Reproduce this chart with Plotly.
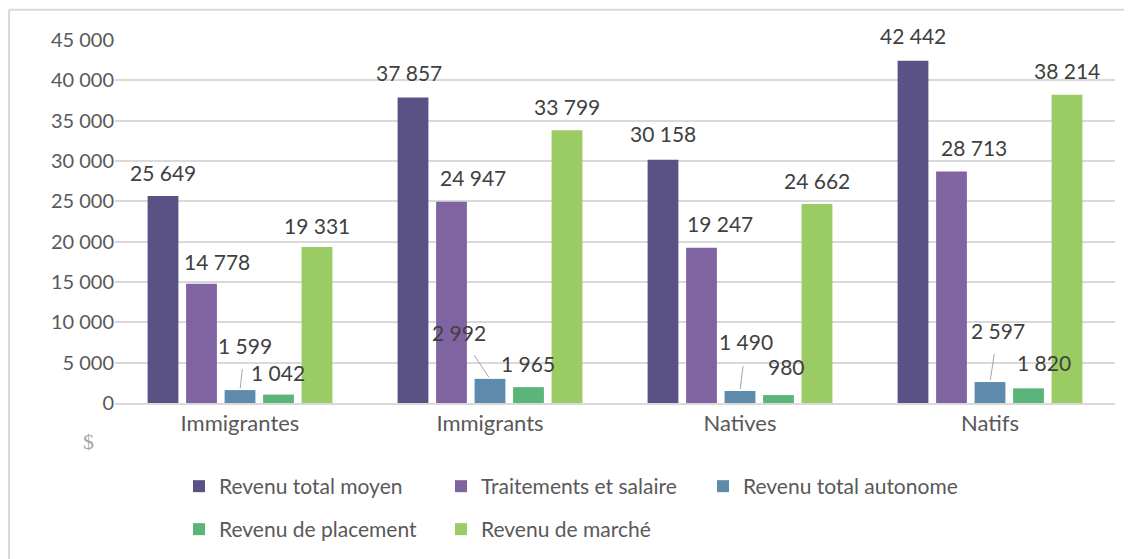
import plotly.graph_objects as go

categories = ["Immigrantes", "Immigrants", "Natives", "Natifs"]
series_names = ["Revenu total moyen", "Traitements et salaire", "Revenu total autonome",
                "Revenu de placement", "Revenu de marché"]
revenu_total_moyen = [25649, 37857, 30158, 42442]
traitements_salaire = [14778, 24947, 19247, 28713]
revenu_autonome = [1599, 2992, 1490, 2597]
revenu_placement = [1042, 1965, 980, 1820]
revenu_marche = [19331, 33799, 24662, 38214]
tick_vals = [0, 5000, 10000, 15000, 20000, 25000, 30000, 35000, 40000, 45000]
tick_text = ["0", "5 000", "10 000", "15 000", "20 000", "25 000", "30 000", "35 000", "40 000", "45 000"]

colors = ["#5A5285", "#8064A2", "#5E8BAB", "#5BB47A", "#9BCB63"]
all_series = [revenu_total_moyen, traitements_salaire, revenu_autonome, revenu_placement, revenu_marche]

FONT = "Lato"
LABEL_FONT = dict(family=FONT, size=21, color="#404040")

def fmt(v):
    return f"{v:,}".replace(",", " ")

BARGAP = 0.23
fig = go.Figure()
for i, (name, vals) in enumerate(zip(series_names, all_series)):
    fig.add_trace(go.Bar(
        name=name, x=categories, y=vals,
        marker=dict(color=colors[i], line=dict(width=0)),
        legend="legend" if i < 3 else "legend2",
    ))

plot_w = 1000
slot = plot_w / len(categories) * (1 - BARGAP) / 5

# label offsets (pixels) relative to the bar centre, for label placement as in the source
label_dx = {
    0: [0, -4, 0, 0],
    1: [15, 21, 18, 22],
    3: [-1, -1, 8, 15],
    4: [0, 0, 0, 0],
}
label_dy = {
    0: [24, 25, 26, 25],
    1: [22, 24, 24, 24],
    3: [22, 24, 29, 26],
    4: [22, 24, 24, 24],
}
for i in (0, 1, 3, 4):
    for j, (c, v) in enumerate(zip(categories, all_series[i])):
        fig.add_annotation(x=c, y=v, xshift=(i - 2) * slot + label_dx[i][j], yshift=label_dy[i][j],
                           text=fmt(v), showarrow=False, font=LABEL_FONT)

# leader-line labels for "Revenu total autonome"
auto_offsets = [(5, -45), (-31, -46), (6, -49), (8, -52)]
for c, v, (ax, ay) in zip(categories, revenu_autonome, auto_offsets):
    fig.add_annotation(x=c, y=v, text=fmt(v), showarrow=True,
                       ax=ax, ay=ay, arrowhead=0, arrowwidth=1, arrowcolor="#a6a6a6",
                       standoff=2, startstandoff=10, font=LABEL_FONT)

fig.update_layout(
    barmode="group", bargap=BARGAP, bargroupgap=0.2,
    width=1124, height=551,
    margin=dict(l=107, r=17, t=32, b=156, autoexpand=False),
    paper_bgcolor="white", plot_bgcolor="white",
    font=dict(family=FONT, color="#595959"),
    yaxis=dict(range=[0, 45000], tickvals=tick_vals, ticktext=tick_text,
               showgrid=True, gridcolor="#d9d9d9", gridwidth=1.5,
               zeroline=False, showline=False,
               tickfont=dict(family=FONT, size=20, color="#595959"), ticks=""),
    xaxis=dict(showline=True, linecolor="#d9d9d9", linewidth=2,
               tickfont=dict(family=FONT, size=22, color="#595959"), ticks=""),
    legend=dict(orientation="h", x=0.064, xanchor="left", y=-0.1736, yanchor="top",
                font=dict(family=FONT, size=21, color="#595959"),
                entrywidth=217, entrywidthmode="pixels", itemwidth=30,
                traceorder="normal"),
    legend2=dict(orientation="h", x=0.064, xanchor="left", y=-0.292, yanchor="top",
                 font=dict(family=FONT, size=21, color="#595959"),
                 entrywidth=217, entrywidthmode="pixels", itemwidth=30,
                 traceorder="normal"),
    showlegend=True,
)
fig.add_annotation(xref="paper", yref="paper", x=-0.034, y=-0.147, text="$", showarrow=False,
                   font=dict(family="Liberation Serif", size=22, color="#a6a6a6"))
# chart frame (left and top edges)
fig.add_shape(type="line", xref="paper", yref="paper", x0=-0.106, x1=1.03, y0=1.083, y1=1.083,
              line=dict(color="#d9d9d9", width=2))
fig.add_shape(type="line", xref="paper", yref="paper", x0=-0.106, x1=-0.106, y0=1.083, y1=-0.5,
              line=dict(color="#d9d9d9", width=2))

fig.write_html("out.html")
